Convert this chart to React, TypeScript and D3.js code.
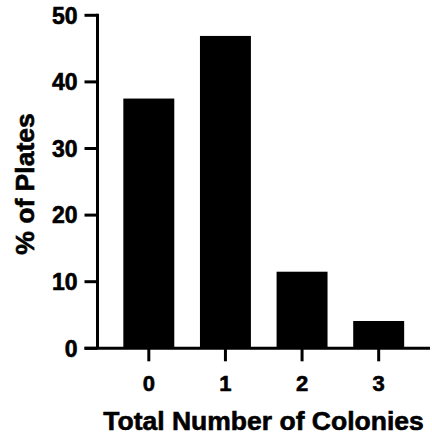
import React from "react";
import * as d3 from "d3";

const categories = ["0", "1", "2", "3"];
const values = [37.5, 46.9, 11.5, 4.1];
const yTicks = [0, 10, 20, 30, 40, 50];
const xTitle = "Total Number of Colonies";
const yTitle = "% of Plates";

const W = 432;
const H = 440;
const FONT = "'Liberation Sans', Arial, Helvetica, sans-serif";

export default function App() {
  const y = d3.scaleLinear().domain([0, 50]).range([348.3, 15.3]);
  const x = d3
    .scaleBand<string>()
    .domain(categories)
    .range([110.5, 417])
    .paddingInner(0.335)
    .paddingOuter(0.1675);
  const axisX = 97.5;
  const tickLen = 13;
  const sw = 3;
  const textStroke = { stroke: "#000", strokeWidth: 0.6 };

  return (
    <svg
      width={W}
      height={H}
      style={{ position: "absolute", left: 0, top: 0, background: "#fff" }}
      fontFamily={FONT}
      fontWeight="bold"
    >
      {categories.map((c, i) => (
        <rect
          key={c}
          x={x(c)!}
          y={y(values[i])}
          width={x.bandwidth()}
          height={y(0) - y(values[i])}
          fill="#000"
        />
      ))}
      <line x1={axisX} x2={axisX} y1={y(50) - sw / 2} y2={y(0)} stroke="#000" strokeWidth={sw} />
      {yTicks.map((t) => (
        <g key={t}>
          <line x1={axisX - tickLen} x2={axisX} y1={y(t)} y2={y(t)} stroke="#000" strokeWidth={sw} />
          <text
            x={axisX - tickLen - 7}
            y={y(t)}
            dy="0.36em"
            textAnchor="end"
            fontSize={23}
            {...textStroke}
          >
            {t}
          </text>
        </g>
      ))}
      <line x1={axisX - tickLen} x2={430} y1={y(0)} y2={y(0)} stroke="#000" strokeWidth={sw} />
      {categories.map((c) => {
        const cx = x(c)! + x.bandwidth() / 2;
        return (
          <g key={c}>
            <line x1={cx} x2={cx} y1={y(0)} y2={y(0) + tickLen} stroke="#000" strokeWidth={sw} />
            <text x={cx} y={390.5} textAnchor="middle" fontSize={22} {...textStroke}>
              {c}
            </text>
          </g>
        );
      })}
      <text x={263.5} y={430} textAnchor="middle" fontSize={26.5} {...textStroke}>
        {xTitle}
      </text>
      <text
        transform={`translate(34, 184) rotate(-90)`}
        textAnchor="middle"
        fontSize={26.5}
        {...textStroke}
      >
        {yTitle}
      </text>
    </svg>
  );
}
